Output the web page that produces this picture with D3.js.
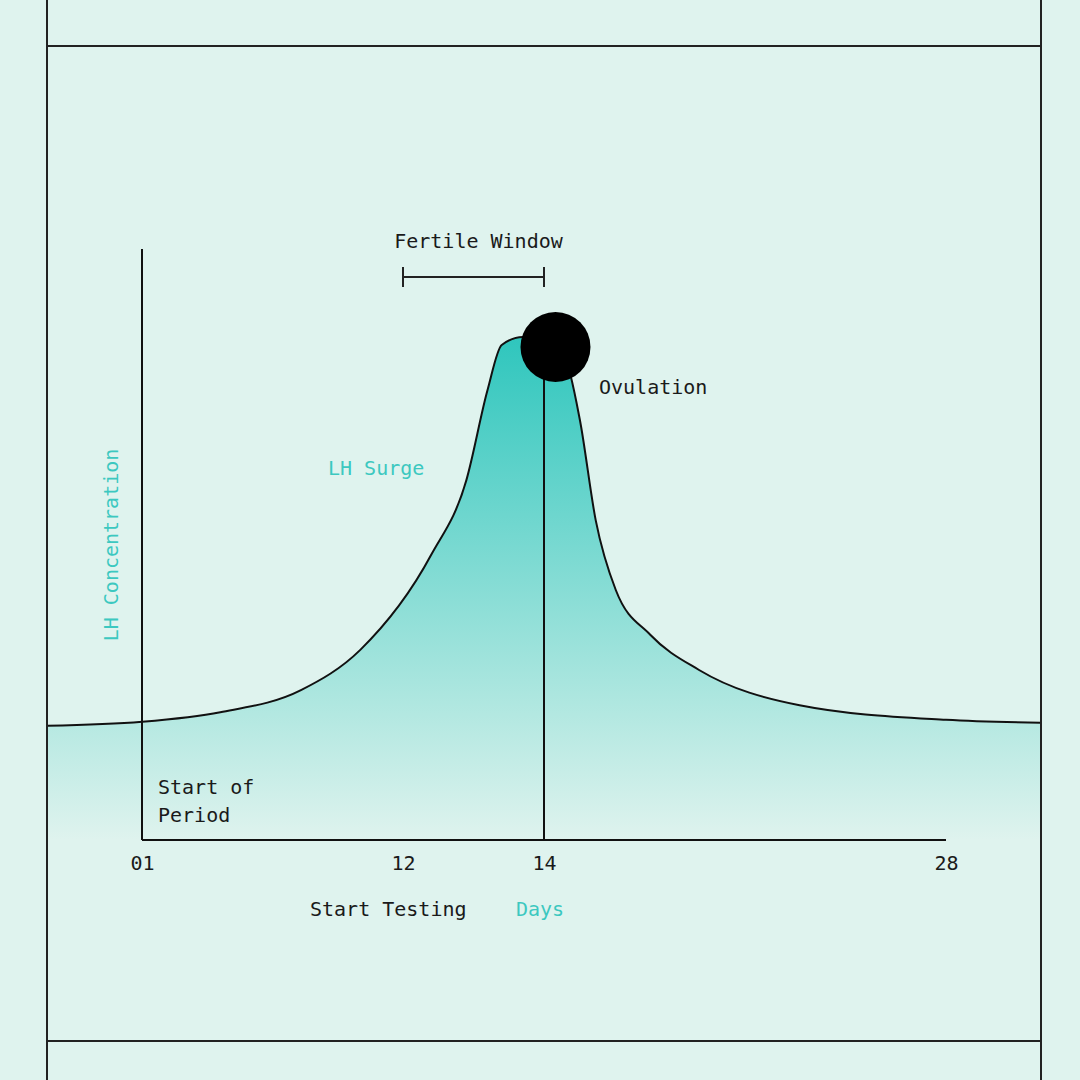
<!DOCTYPE html>
<html>
<head>
<meta charset="utf-8">
<script src="https://cdn.jsdelivr.net/npm/d3@7"></script>
<style>
  body { margin: 0; background: #dff3ee; }
  text { font-family: "DejaVu Sans Mono", monospace; font-size: 20px; fill: #1a1a1a; }
</style>
</head>
<body>
<div id="chart"></div>
<script>
var W = 1080, H = 1080;

// curve: day of cycle, relative LH level
var days = [-3, 1, 4.3, 7.7, 10.2, 12.4, 12.9, 13.2, 13.4, 13.7, 14, 14.7, 15.25, 15.8, 16.5, 17.7, 19.4, 22.9, 28, 31.3];
var lh =   [22.7, 23.5, 25.4, 29.8, 37.8, 56.7, 71.6, 89.5, 98.4, 100, 99.8, 96.4, 83.5, 63.6, 49.7, 40.8, 33.8, 26.8, 23.9, 23.3];
var tickDays = [1, 12, 14, 28];
var tickLabels = ["01", "12", "14", "28"];
var fertile = [12, 14];
var ovulationDay = 14.4;

var teal = "#3cc8c0";

var svg = d3.select("#chart").append("svg")
    .attr("width", W).attr("height", H);

var x = d3.scaleLinear().domain([1, 12, 14, 28]).range([142, 403, 544, 946]);
var y = d3.scaleLinear().domain([0, 100]).range([840, 337]);

var grad = svg.append("defs").append("linearGradient")
    .attr("id", "fill").attr("x1", 0).attr("y1", 0).attr("x2", 0).attr("y2", 1)
    .attr("gradientUnits", "userSpaceOnUse")
    .attr("x1", 0).attr("y1", 337).attr("x2", 0).attr("y2", 840);
grad.append("stop").attr("offset", "0%").attr("stop-color", "#2fc6bd");
grad.append("stop").attr("offset", "75%").attr("stop-color", "#b3e8e1");
grad.append("stop").attr("offset", "100%").attr("stop-color", "#dff3ee");

var pts = days.map(function(d, i) { return [d, lh[i]]; });

svg.append("path")
    .datum(pts)
    .attr("fill", "url(#fill)")
    .attr("d", d3.area().curve(d3.curveMonotoneX)
        .x(function(d) { return x(d[0]); })
        .y0(840).y1(function(d) { return y(d[1]); }));

svg.append("path")
    .datum(pts)
    .attr("fill", "none").attr("stroke", "#111").attr("stroke-width", 2)
    .attr("d", d3.line().curve(d3.curveMonotoneX)
        .x(function(d) { return x(d[0]); })
        .y(function(d) { return y(d[1]); }));

// frame
svg.append("g").attr("stroke", "#222").attr("stroke-width", 2)
  .selectAll("line")
  .data([[47, 0, 47, H], [1041, 0, 1041, H], [47, 46, 1041, 46], [47, 1041, 1041, 1041]])
  .enter().append("line")
    .attr("x1", function(d) { return d[0]; }).attr("y1", function(d) { return d[1]; })
    .attr("x2", function(d) { return d[2]; }).attr("y2", function(d) { return d[3]; });

// axes
svg.append("line").attr("x1", 142).attr("x2", 142).attr("y1", 249).attr("y2", 840)
    .attr("stroke", "#111").attr("stroke-width", 2);
var xa = svg.append("g").attr("transform", "translate(0,840)")
    .call(d3.axisBottom(x).tickValues(tickDays).tickSize(0).tickPadding(16)
        .tickFormat(function(d, i) { return tickLabels[i]; }));
xa.select(".domain").attr("stroke", "#111").attr("stroke-width", 2).attr("d", "M142,0H946");
xa.selectAll("text").style("font-family", "DejaVu Sans Mono").style("font-size", "20px").attr("fill", "#1a1a1a");

// ovulation line + dot
svg.append("line").attr("x1", x(14)).attr("x2", x(14)).attr("y1", 840).attr("y2", 350)
    .attr("stroke", "#111").attr("stroke-width", 2);
svg.append("circle").attr("cx", x(ovulationDay)).attr("cy", 347).attr("r", 35).attr("fill", "#000");

// fertile window bracket
var fb = svg.append("g").attr("stroke", "#222").attr("stroke-width", 2);
fb.append("line").attr("x1", x(fertile[0])).attr("x2", x(fertile[1])).attr("y1", 277).attr("y2", 277);
fertile.forEach(function(d) {
  fb.append("line").attr("x1", x(d)).attr("x2", x(d)).attr("y1", 267).attr("y2", 287);
});
svg.append("text").attr("x", (x(fertile[0]) + x(fertile[1])) / 2 + 5).attr("y", 248)
    .attr("text-anchor", "middle").text("Fertile Window");

svg.append("text").attr("x", 599).attr("y", 394).text("Ovulation");
svg.append("text").attr("x", 328).attr("y", 475).style("fill", teal).text("LH Surge");
svg.append("text").attr("transform", "translate(118,545) rotate(-90)")
    .attr("text-anchor", "middle").style("fill", teal).text("LH Concentration");
svg.append("text").attr("x", 158).attr("y", 794).text("Start of");
svg.append("text").attr("x", 158).attr("y", 822).text("Period");
svg.append("text").attr("x", 310).attr("y", 916).text("Start Testing");
svg.append("text").attr("x", 516).attr("y", 916).style("fill", teal).text("Days");
</script>
</body>
</html>
